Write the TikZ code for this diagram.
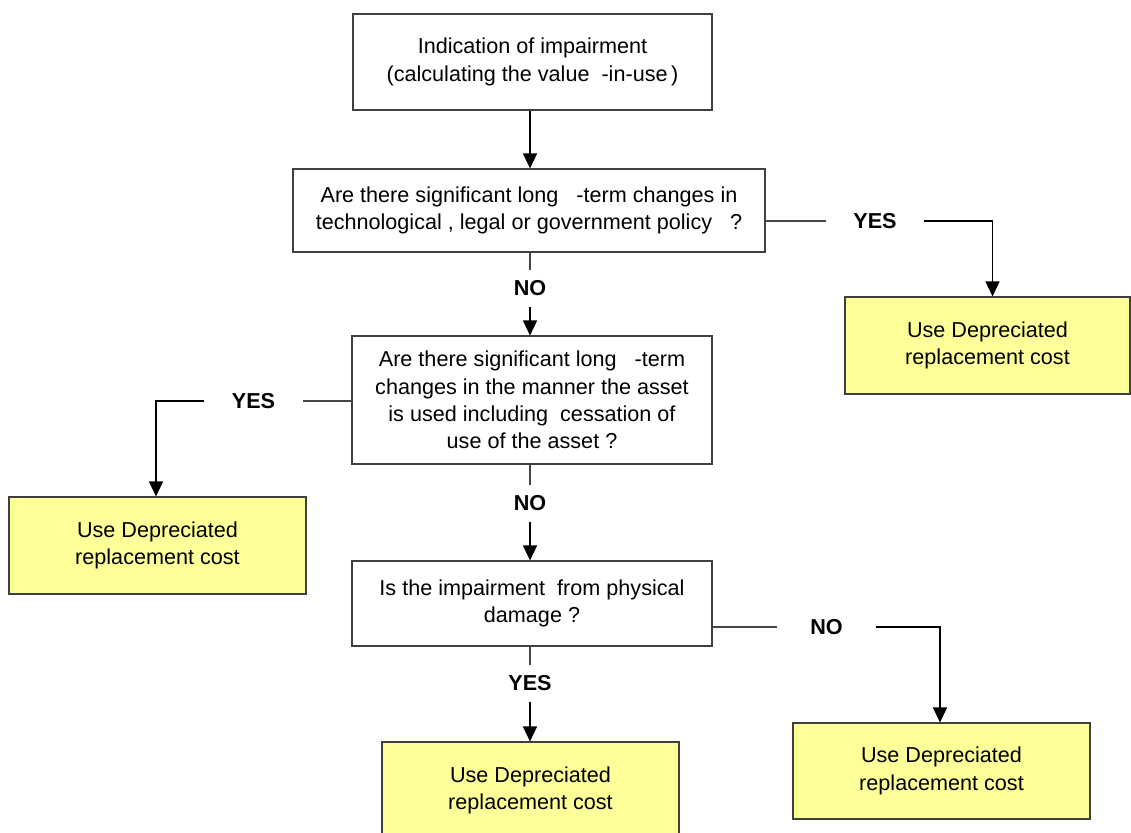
\documentclass[tikz,border=0pt]{standalone}
\usepackage{fontspec}
\setmainfont{Liberation Sans}
\usetikzlibrary{arrows.meta}
\definecolor{boxyellow}{RGB}{255,255,153}
\definecolor{edgegray}{RGB}{64,64,64}
\definecolor{linegray}{RGB}{70,70,70}
\tikzset{
  base/.style={draw=edgegray, line width=0.7pt, align=center, inner sep=0pt,
    font=\fontsize{12.3}{15.6}\selectfont},
  qbox/.style={base, fill=white},
  ybox/.style={base, fill=boxyellow},
  hlab/.style={inner sep=0pt, minimum width=1.95cm, minimum height=0.5cm,
    font=\fontsize{12.3}{15.6}\selectfont\bfseries},
  vlab/.style={inner sep=0pt, minimum height=0.74cm, minimum width=0.8cm,
    font=\fontsize{12.3}{15.6}\selectfont\bfseries},
  ln/.style={draw=linegray, line width=0.7pt},
  arr/.style={draw=black, line width=0.7pt, -{Triangle[length=8.5pt,width=8pt]}}
}
\begin{document}
\begin{tikzpicture}[x=0.02cm, y=-0.02cm]
\clip (0,0) rectangle (1131,832);
\fill[white] (0,0) rectangle (1131,832);
% boxes
\node[qbox, minimum width=7.18cm, minimum height=1.92cm] (top) at (532.5,62)
  {Indication of impairment\\(calculating the value\ \ -in-use\,)};
\node[qbox, minimum width=9.44cm, minimum height=1.66cm] (q1) at (529,210.5)
  {Are there significant long\ \ \ -term changes in\\technological\ , legal or government policy\ \ \ ?};
\node[ybox, minimum width=5.7cm, minimum height=1.94cm] (r1) at (987.5,345.5)
  {Use Depreciated\\replacement cost};
\node[qbox, minimum width=7.2cm, minimum height=2.56cm] (q2) at (532,400)
  {Are there significant long\ \ \ -term\\changes in the manner the asset\\is used including\ \ cessation of\\use of the asset ?};
\node[ybox, minimum width=5.94cm, minimum height=1.94cm] (l1) at (157.5,545.5)
  {Use Depreciated\\replacement cost};
\node[qbox, minimum width=7.2cm, minimum height=1.7cm] (q3) at (532,603.5)
  {Is the impairment\ \ from physical\\damage ?};
\node[ybox, minimum width=5.94cm, minimum height=1.94cm] (b1) at (530.5,790.5)
  {Use Depreciated\\replacement cost};
\node[ybox, minimum width=5.94cm, minimum height=1.92cm] (r2) at (941.5,771)
  {Use Depreciated\\replacement cost};
% labels
\node[hlab] (yes1) at (875,221) {YES};
\node[vlab] (no1) at (530,288.5) {NO};
\node[hlab] (yes2) at (253.5,401) {YES};
\node[vlab] (no2) at (530,503.5) {NO};
\node[hlab] (no3) at (826.5,627) {NO};
\node[vlab] (yes3) at (530,683.5) {YES};
% connectors
\draw[arr] (top.south -| no1) -- (q1.north -| no1);
\draw[ln] (q1.east |- yes1) -- (yes1.west);
\draw[arr] (yes1.east) -| ([xshift=0.1cm]r1.north);
\draw[ln] (q1.south -| no1) -- (no1.north);
\draw[arr] (no1.south) -- (q2.north -| no1);
\draw[ln] (q2.west |- yes2) -- (yes2.east);
\draw[arr] (yes2.west) -| ([xshift=-0.03cm]l1.north);
\draw[ln] (q2.south -| no2) -- (no2.north);
\draw[arr] (no2.south) -- (q3.north -| no2);
\draw[ln] (q3.east |- no3) -- (no3.west);
\draw[arr] (no3.east) -| ([xshift=-0.03cm]r2.north);
\draw[ln] (q3.south -| yes3) -- (yes3.north);
\draw[arr] (yes3.south) -- (b1.north -| yes3);
\end{tikzpicture}
\end{document}
